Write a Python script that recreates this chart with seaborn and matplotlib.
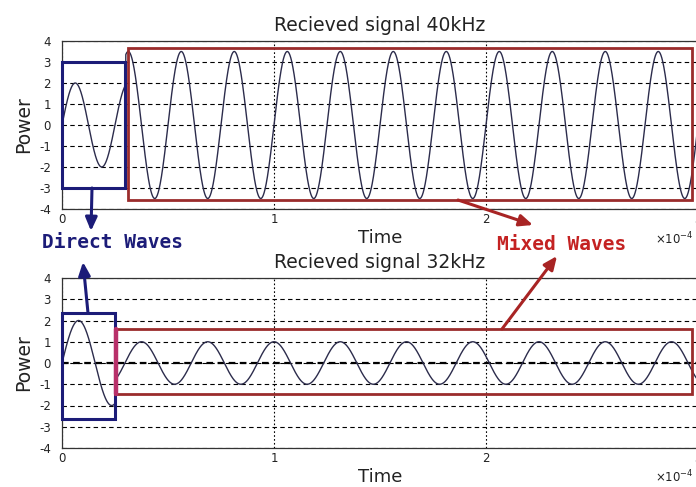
import numpy as np
import pandas as pd
import matplotlib
matplotlib.use("Agg")
import matplotlib.pyplot as plt
import seaborn as sns
from matplotlib.patches import Rectangle, FancyArrowPatch

# ---- received-signal parameters (time in seconds) ----
titles = ["Recieved signal 40kHz", "Recieved signal 32kHz"]
freqs_hz = [40e3, 32e3]
direct_amp = [2.0, 2.0]             # direct wave only
direct_until_s = [0.30e-4, 0.25e-4] # reflected wave arrives here
mixed_amp = [3.5, 1.0]              # direct + reflected
mixed_phase_cycles = [0.0, 0.05]
t_end_s = 3e-4
time_scale = 1e-4                   # axis shows time in units of 1e-4 s

x_ticks = [0, 1, 2, 3]
y_ticks = [-4, -3, -2, -1, 0, 1, 2, 3, 4]
x_label = "Time"
y_label = "Power"
direct_text = "Direct Waves"
mixed_text = "Mixed Waves"

sns.set_theme(style="white")
plt.rcParams["font.family"] = ["DejaVu Sans"]
plt.rcParams["axes.unicode_minus"] = False

W, H = 696, 487
fig = plt.figure(figsize=(W / 100, H / 100), dpi=100)
fig.patch.set_facecolor("white")


def px_rect(left, top, right, bottom):
    return [left / W, 1 - bottom / H, (right - left) / W, (bottom - top) / H]


axes = [fig.add_axes(px_rect(62, 41, 698, 209)),
        fig.add_axes(px_rect(62, 278, 698, 448))]

line_color = "#2c2c4c"
navy = "#1c1c78"
dark_red = "#9a2c2c"
text_red = "#c42222"

for i, ax in enumerate(axes):
    t = np.linspace(0, t_end_s, 6001)
    f = freqs_hz[i]
    direct = direct_amp[i] * np.sin(2 * np.pi * f * t)
    mixed = mixed_amp[i] * np.sin(2 * np.pi * (f * t + mixed_phase_cycles[i]))
    power = np.where(t < direct_until_s[i], direct, mixed)
    df = pd.DataFrame({"time": t / time_scale, "power": power})

    ax.set_axisbelow(True)
    ax.yaxis.grid(True, color="black", lw=0.8, ls=(0, (4, 3)))
    ax.xaxis.grid(True, color="black", lw=0.8, ls=(0, (1.5, 2)))

    sns.lineplot(data=df, x="time", y="power", ax=ax, color=line_color,
                 lw=1.0, estimator=None, sort=False)

    ax.set_xlim(0, 3)
    ax.set_ylim(-4, 4)
    ax.set_xticks(x_ticks)
    ax.set_yticks(y_ticks)
    ax.tick_params(direction="in", length=4, labelsize=8.5, colors="#222222")
    ax.tick_params(axis="x", pad=3)
    ax.tick_params(axis="y", pad=8)
    for s in ax.spines.values():
        s.set_color("#333333")
        s.set_linewidth(0.9)
    ax.set_title(titles[i], fontsize=13.5, color="#222222", pad=7)
    ax.set_xlabel(x_label, fontsize=13, color="#222222", labelpad=2)
    ax.set_ylabel(y_label, fontsize=13.5, color="#222222", labelpad=4)

# zero reference line in the lower panel
axes[1].axhline(0, color="black", lw=1.6, ls=(0, (3, 2)), zorder=1.5)

# boxes around the direct and mixed parts
ax_t, ax_b = axes
ax_t.add_patch(Rectangle((0, -3), 0.297, 6, fill=False, ec=navy, lw=2.2,
                         clip_on=False, zorder=4))
ax_t.add_patch(Rectangle((0.31, -3.57), 2.66, 7.25, fill=False, ec=dark_red,
                         lw=2.0, clip_on=False, zorder=4))
ax_b.add_patch(Rectangle((0, -2.63), 0.25, 4.98, fill=False, ec=navy, lw=2.2,
                         clip_on=False, zorder=4))
ax_b.add_patch(Rectangle((0.25, -1.45), 2.72, 3.05, fill=False, ec=dark_red,
                         lw=2.0, clip_on=False, zorder=4))
ax_b.plot([0.255, 0.255], [-1.45, 1.6], color="#b8306a", lw=3.2, zorder=5)


def arrow(p0, p1, color):
    fig.add_artist(FancyArrowPatch(
        posA=(p0[0] / W, 1 - p0[1] / H), posB=(p1[0] / W, 1 - p1[1] / H),
        transform=fig.transFigure, arrowstyle="-|>,head_length=8,head_width=3.5",
        mutation_scale=1, color=color, lw=2.2, shrinkA=0, shrinkB=0,
        zorder=6))


arrow((92, 188), (91, 231), navy)
arrow((88, 313), (83, 262), navy)
arrow((458, 200), (533, 225), "#a82424")
arrow((502, 329), (557, 256), "#a82424")

fig.text(112 / W, 1 - 243 / H, direct_text, ha="center", va="center",
         family="DejaVu Sans Mono", weight="bold", fontsize=14, color=navy)
fig.text(562 / W, 1 - 244 / H, mixed_text, ha="center", va="center",
         family="DejaVu Sans Mono", weight="bold", fontsize=14, color=text_red)

for y in (239, 477):
    fig.text(694 / W, 1 - y / H, r"$\times$10$^{-4}$", ha="right",
             va="center", fontsize=8.5, color="#222222")

fig.savefig("out.png", dpi=100, facecolor="white")
